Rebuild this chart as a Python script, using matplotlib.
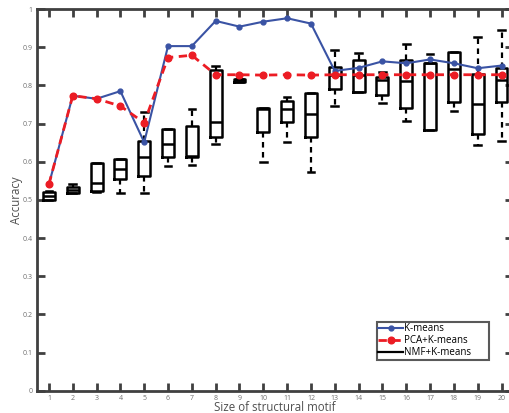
import matplotlib
matplotlib.use("Agg")
import matplotlib.pyplot as plt
from matplotlib.lines import Line2D

plt.rcParams['font.family'] = ['Open Sans', 'DejaVu Sans']

sizes = list(range(1, 21))
kmeans = [0.541, 0.773, 0.765, 0.785, 0.651, 0.903, 0.903, 0.969, 0.954, 0.967,
          0.976, 0.962, 0.838, 0.846, 0.863, 0.858, 0.868, 0.858, 0.845, 0.852]
pca_kmeans = [0.541, 0.773, 0.765, 0.746, 0.702, 0.873, 0.879, 0.828, 0.828, 0.827,
              0.828, 0.827, 0.828, 0.828, 0.828, 0.828, 0.828, 0.828, 0.828, 0.828]

# NMF+K-means box statistics
nmf_whislo = [0.500, 0.518, 0.520, 0.519, 0.519, 0.589, 0.592, 0.646, 0.810, 0.599,
              0.652, 0.574, 0.747, 0.782, 0.755, 0.708, 0.683, 0.732, 0.643, 0.655]
nmf_q1 = [0.501, 0.519, 0.524, 0.555, 0.562, 0.613, 0.612, 0.664, 0.810, 0.678,
          0.705, 0.665, 0.790, 0.783, 0.775, 0.742, 0.683, 0.756, 0.673, 0.756]
nmf_med = [0.510, 0.526, 0.545, 0.581, 0.613, 0.646, 0.615, 0.704, 0.814, 0.738,
           0.738, 0.725, 0.827, 0.828, 0.815, 0.811, 0.858, 0.843, 0.750, 0.814]
nmf_q3 = [0.521, 0.533, 0.596, 0.607, 0.655, 0.685, 0.694, 0.840, 0.818, 0.740,
          0.760, 0.779, 0.847, 0.866, 0.823, 0.866, 0.860, 0.887, 0.830, 0.846]
nmf_whishi = [0.522, 0.542, 0.596, 0.608, 0.730, 0.685, 0.739, 0.850, 0.818, 0.740,
              0.770, 0.779, 0.894, 0.886, 0.835, 0.908, 0.882, 0.887, 0.927, 0.945]

xticks = list(range(1, 21))
yticks = [0, 0.1, 0.2, 0.3, 0.4, 0.5, 0.6, 0.7, 0.8, 0.9, 1]
ytick_labels = ['0', '0.1', '0.2', '0.3', '0.4', '0.5', '0.6', '0.7', '0.8', '0.9', '1']

fig = plt.figure(figsize=(5.09, 4.13), dpi=100)
ax = fig.add_axes([0.0727, 0.054, 0.936, 0.924])

stats = []
for i in range(len(sizes)):
    stats.append(dict(whislo=nmf_whislo[i], q1=nmf_q1[i], med=nmf_med[i],
                      q3=nmf_q3[i], whishi=nmf_whishi[i], fliers=[]))
ax.bxp(stats, positions=sizes, widths=0.5, capwidths=0.28, showfliers=False,
       boxprops=dict(color='black', linewidth=1.8),
       medianprops=dict(color='black', linewidth=1.8),
       whiskerprops=dict(color='black', linewidth=1.6, linestyle=(0, (2.5, 2))),
       capprops=dict(color='black', linewidth=1.8), manage_ticks=False, zorder=2)

blue = '#3a53a4'
red = '#ec1c24'
ax.plot(sizes, kmeans, color=blue, linewidth=1.5, marker='o', markersize=3.5,
        zorder=3)
ax.plot(sizes, pca_kmeans, color=red, linewidth=2, linestyle=(0, (3, 2)),
        marker='o', markersize=4.8, zorder=4)

ax.set_xlim(0.5, 20.5)
ax.set_ylim(0, 1)
ax.set_xticks(xticks)
ax.set_xticklabels([str(t) for t in xticks])
ax.set_yticks(yticks)
ax.set_yticklabels(ytick_labels)

for s in ax.spines.values():
    s.set_linewidth(2)
    s.set_color('#404040')
ax.tick_params(direction='in', length=6, width=2, color='#404040',
               labelsize=5, labelcolor='#707070', top=True, right=True, pad=3)

ax.set_xlabel('Size of structural motif', fontsize=8.3, color='#505050', labelpad=-0.5)
ax.set_ylabel('Accuracy', fontsize=8.3, color='#505050', labelpad=0)

handles = [
    Line2D([], [], color=blue, linewidth=1.5, marker='o', markersize=3.5),
    Line2D([], [], color=red, linewidth=2, linestyle=(0, (3, 2)), marker='o', markersize=4.8),
    Line2D([], [], color='black', linewidth=1.6),
]
leg = ax.legend(handles, ['K-means', 'PCA+K-means', 'NMF+K-means'],
                loc='upper left', bbox_to_anchor=(0.713, 0.0823, 0.2364, 0.0985),
                mode='expand', fontsize=7, frameon=True, fancybox=False,
                borderpad=0.15, labelspacing=0.1, handlelength=2.6,
                handletextpad=0.1, borderaxespad=0)
leg.get_frame().set_edgecolor('#303030')
leg.get_frame().set_linewidth(1.5)

fig.savefig('out.png', dpi=100)
